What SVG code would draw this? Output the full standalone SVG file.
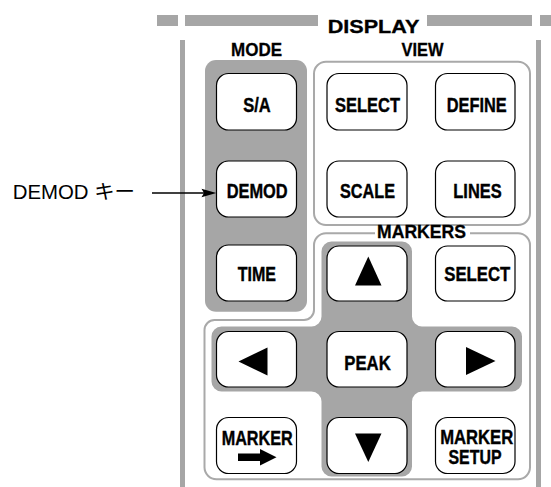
<svg xmlns="http://www.w3.org/2000/svg" width="551" height="487" viewBox="0 0 551 487">
<style>
.bar{fill:#a6a6a6}
.panel{fill:#a6a6a6}
.outline{fill:none;stroke:#a9a9a9;stroke-width:2}
.btn{fill:#ffffff;stroke:#000000;stroke-width:1.2}
.lbl{font-family:"Liberation Sans",Arial,sans-serif;font-weight:bold;font-size:20px;fill:#000;stroke:#000;stroke-width:0.4;text-anchor:middle}
.hdr{font-family:"Liberation Sans",Arial,sans-serif;font-weight:bold;font-size:18.5px;fill:#000;stroke:#000;stroke-width:0.3;text-anchor:middle}
.ann{font-family:"Liberation Sans","Noto Sans CJK JP",sans-serif;font-size:20px;fill:#000}
.tri{fill:#000}
</style>
<rect width="551" height="487" fill="#ffffff"/>

<g id="frame">
  <rect class="bar" x="157" y="15" width="21" height="11"/>
  <rect class="bar" x="185" y="15" width="133" height="11"/>
  <rect class="bar" x="427" y="15" width="105" height="11"/>
  <rect class="bar" x="540" y="15" width="11" height="11"/>
  <rect class="bar" x="180" y="40" width="5" height="447"/>
  <rect class="bar" x="536" y="40" width="5" height="447"/>
  <text class="hdr" x="373.5" y="33.3" font-size="22.5" textLength="91.6" lengthAdjust="spacingAndGlyphs">DISPLAY</text>
</g>

<g id="mode-panel">
  <text class="hdr" x="256.5" y="55.7" textLength="51" lengthAdjust="spacingAndGlyphs">MODE</text>
  <rect class="panel" x="205" y="60" width="102" height="251.7" rx="11"/>
</g>

<g id="view-panel">
  <text class="hdr" x="422.5" y="56" textLength="42" lengthAdjust="spacingAndGlyphs">VIEW</text>
  <rect class="outline" x="314" y="61.7" width="216" height="163.3" rx="12"/>
</g>

<g id="markers-panel">
  <text class="hdr" x="421.5" y="238.3" font-size="17.5" textLength="89" lengthAdjust="spacingAndGlyphs">MARKERS</text>
  <path class="outline" d="M470 233.3 H518 A12 12 0 0 1 530 245.3 V467.3 A12 12 0 0 1 518 479.3 H216.5 A12 12 0 0 1 204.5 467.3 V330 A10 10 0 0 1 214.5 320 H304 A10 10 0 0 0 314 310 V245.3 A12 12 0 0 1 326 233.3 H375"/>
  <path class="panel" d="M321.5 251.5 A10 10 0 0 1 331.5 241.5 H402 A10 10 0 0 1 412 251.5 V316.5 A10 10 0 0 0 422 326.5 H512 A10 10 0 0 1 522 336.5 V381.5 A10 10 0 0 1 512 391.5 H422 A10 10 0 0 0 412 401.5 V466.5 A10 10 0 0 1 402 476.5 H331.5 A10 10 0 0 1 321.5 466.5 V401.5 A10 10 0 0 0 311.5 391.5 H221.5 A10 10 0 0 1 211.5 381.5 V336.5 A10 10 0 0 1 221.5 326.5 H311.5 A10 10 0 0 0 321.5 316.5 Z"/>
</g>

<g id="btn-sa">
  <rect class="btn" x="216.5" y="73.5" width="80" height="56.5" rx="12"/>
  <text class="lbl" x="257" y="111.5" textLength="27.5" lengthAdjust="spacingAndGlyphs">S/A</text>
</g>
<g id="btn-demod">
  <rect class="btn" x="216.5" y="161" width="80" height="56" rx="12"/>
  <text class="lbl" x="257.2" y="198.3" textLength="61" lengthAdjust="spacingAndGlyphs">DEMOD</text>
</g>
<g id="btn-time">
  <rect class="btn" x="216.5" y="245" width="80" height="56" rx="12"/>
  <text class="lbl" x="256.8" y="280.7" textLength="38.3" lengthAdjust="spacingAndGlyphs">TIME</text>
</g>

<g id="btn-view-select">
  <rect class="btn" x="327" y="73.5" width="80" height="56.5" rx="12"/>
  <text class="lbl" x="367.5" y="111.5" textLength="65" lengthAdjust="spacingAndGlyphs">SELECT</text>
</g>
<g id="btn-define">
  <rect class="btn" x="435.5" y="73.5" width="79.5" height="56.5" rx="12"/>
  <text class="lbl" x="476.7" y="111.5" textLength="60" lengthAdjust="spacingAndGlyphs">DEFINE</text>
</g>
<g id="btn-scale">
  <rect class="btn" x="327" y="161" width="80" height="56" rx="12"/>
  <text class="lbl" x="367.5" y="198.3" textLength="55" lengthAdjust="spacingAndGlyphs">SCALE</text>
</g>
<g id="btn-lines">
  <rect class="btn" x="435.5" y="161" width="79.5" height="56" rx="12"/>
  <text class="lbl" x="477.5" y="198.3" textLength="48.4" lengthAdjust="spacingAndGlyphs">LINES</text>
</g>

<g id="btn-up">
  <rect class="btn" x="327" y="246" width="80" height="55" rx="12"/>
  <polygon class="tri" points="368.3,256.5 355,285.5 381.5,285.5"/>
</g>
<g id="btn-marker-select">
  <rect class="btn" x="435.5" y="246" width="79.5" height="55" rx="12"/>
  <text class="lbl" x="477.3" y="281" textLength="66" lengthAdjust="spacingAndGlyphs">SELECT</text>
</g>
<g id="btn-left">
  <rect class="btn" x="216.5" y="331.5" width="80" height="55.5" rx="12"/>
  <polygon class="tri" points="238.5,361.5 267.5,347.5 267.5,375.5"/>
</g>
<g id="btn-peak">
  <rect class="btn" x="327" y="331.5" width="80" height="55.5" rx="12"/>
  <text class="lbl" x="367.5" y="370" textLength="46.4" lengthAdjust="spacingAndGlyphs">PEAK</text>
</g>
<g id="btn-right">
  <rect class="btn" x="435.5" y="331.5" width="79.5" height="55.5" rx="12"/>
  <polygon class="tri" points="495.5,361 466,347 466,375"/>
</g>
<g id="btn-marker-to">
  <rect class="btn" x="216.5" y="417.5" width="80" height="56" rx="12"/>
  <text class="lbl" x="257.2" y="444.5" font-size="19" textLength="71" lengthAdjust="spacingAndGlyphs">MARKER</text>
  <rect class="tri" x="238" y="453.5" width="23" height="7.5"/>
  <polygon class="tri" points="260,449 276.5,457.3 260,465.5"/>
</g>
<g id="btn-down">
  <rect class="btn" x="327" y="417.5" width="80" height="56" rx="12"/>
  <polygon class="tri" points="355,433.5 381.5,433.5 368.3,462"/>
</g>
<g id="btn-marker-setup">
  <rect class="btn" x="435.5" y="417.5" width="79.5" height="56" rx="12"/>
  <text class="lbl" x="476.7" y="443.5" font-size="17.5" textLength="73" lengthAdjust="spacingAndGlyphs">MARKER</text>
  <text class="lbl" x="475" y="464" font-size="17.5" textLength="53" lengthAdjust="spacingAndGlyphs">SETUP</text>
</g>

<g id="annotation">
  <text class="ann" x="12.7" y="199.3" textLength="122.3" lengthAdjust="spacingAndGlyphs">DEMOD キー</text>
</g>

<g id="connectors">
  <line x1="152" y1="193" x2="204" y2="193" stroke="#000" stroke-width="1.3"/>
  <polygon points="201.5,188.8 216.3,193 201.5,197.2 204,193" fill="#000"/>
</g>
</svg>
